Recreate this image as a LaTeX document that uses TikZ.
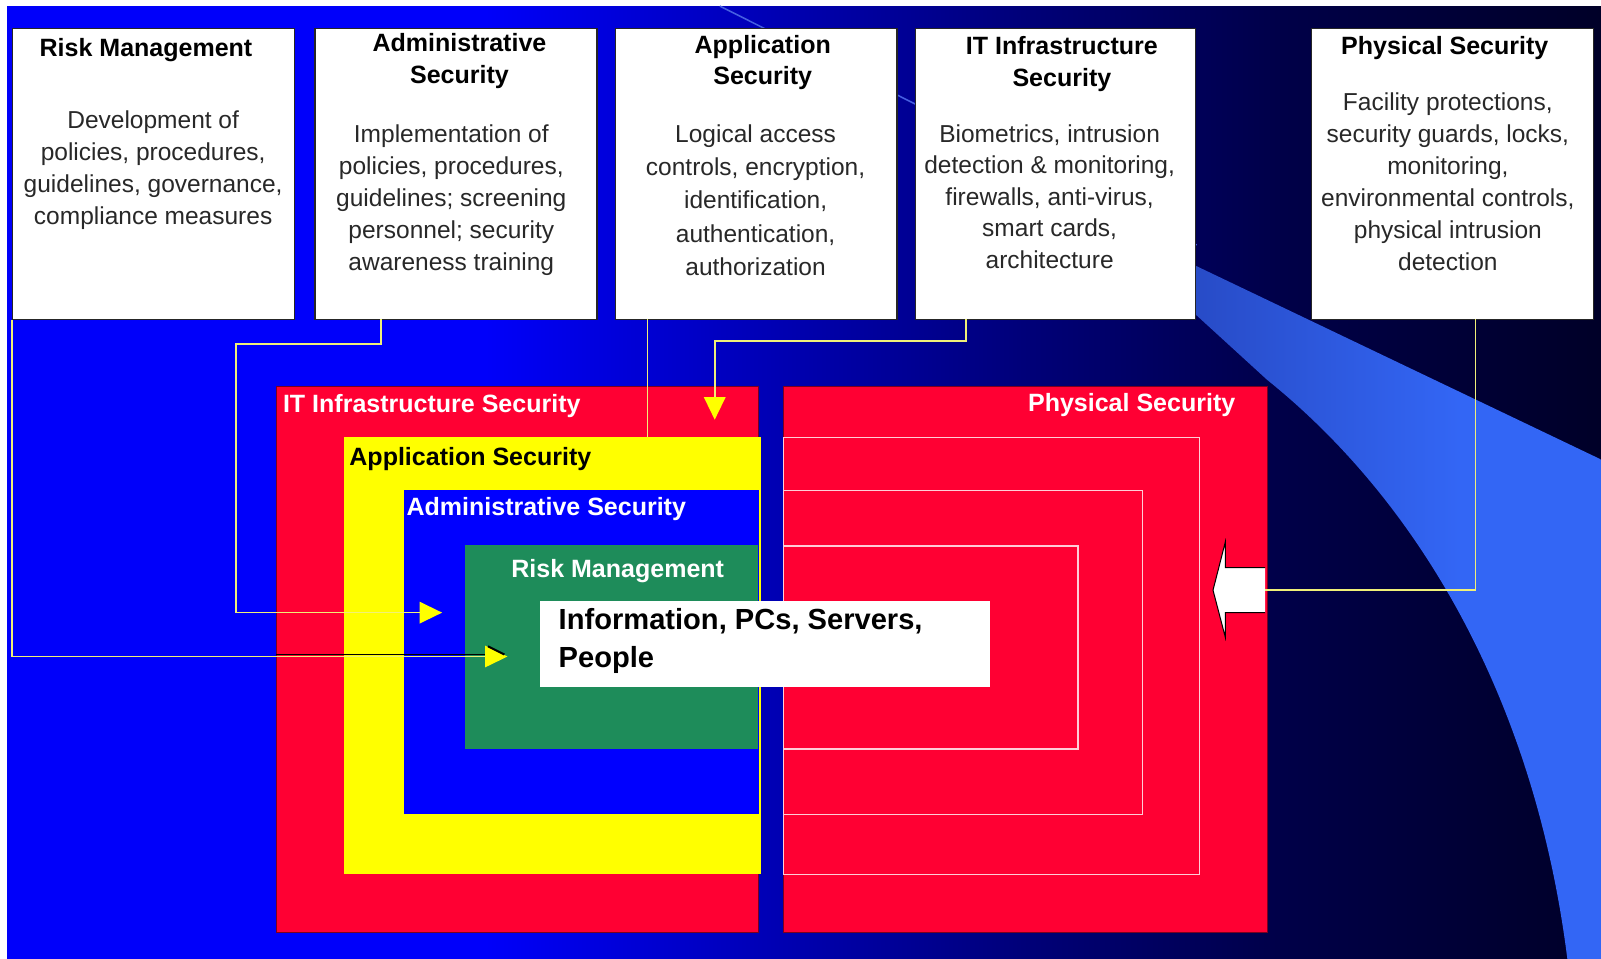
\documentclass[tikz,border=0pt]{standalone}
\usepackage{fontspec}
\setmainfont{Liberation Sans}
\usetikzlibrary{arrows.meta}

\definecolor{bgA}{RGB}{0,0,250}
\definecolor{bgB}{RGB}{0,0,180}
\definecolor{bgC}{RGB}{0,0,120}
\definecolor{bgD}{RGB}{0,0,72}
\definecolor{bgE}{RGB}{0,0,40}
\definecolor{swA}{RGB}{40,76,200}
\definecolor{swB}{RGB}{51,102,245}
\definecolor{streak}{RGB}{70,95,225}
\definecolor{itred}{RGB}{255,0,51}
\definecolor{redline}{RGB}{120,0,30}
\definecolor{appyellow}{RGB}{255,255,0}
\definecolor{admblue}{RGB}{0,0,255}
\definecolor{riskgreen}{RGB}{30,140,90}
\definecolor{ringline}{RGB}{255,205,215}
\definecolor{connline}{RGB}{240,240,120}
\definecolor{bodytext}{RGB}{40,40,40}

\pgfdeclarehorizontalshading{bgshade}{100bp}{color(0bp)=(bgA); color(40bp)=(bgA); color(49bp)=(bgB); color(57bp)=(bgC); color(65bp)=(bgD); color(75bp)=(bgE); color(100bp)=(bgE)}
\pgfdeclarehorizontalshading{swshade}{100bp}{color(0bp)=(swA); color(27bp)=(swA); color(58bp)=(swB); color(100bp)=(swB)}

\tikzset{
  topbox/.style={draw=black!85, line width=1.2pt, fill=white, anchor=north west, inner sep=0pt},
  ttl/.style={font=\fontsize{24.5}{31}\selectfont\bfseries, align=center, inner sep=0pt, anchor=north},
  body/.style={font=\fontsize{24}{31.5}\selectfont, text=bodytext, align=center, inner sep=0pt, anchor=north},
  layer/.style={anchor=north west, inner sep=0pt},
  lbl/.style={font=\fontsize{24.5}{31}\selectfont\bfseries, inner sep=0pt},
  ring/.style={draw=ringline, line width=1.3pt, anchor=north west, inner sep=0pt},
  conn/.style={draw=connline, line width=1.5pt},
  arr/.style={-{Triangle[length=22pt, width=21pt, fill=appyellow, color=appyellow]}}
}

\begin{document}
\begin{tikzpicture}[x=1pt, y=-1pt]
  % canvas and backdrop
  \fill[white] (0,0) rectangle (1568,939);
  \useasboundingbox (0,0) rectangle (1568,939);
  \shade[shading=bgshade] (7,6) rectangle (1568,939);
  \draw[streak, line width=1.5pt] (705,6) -- (1172,240);
  \shade[shading=swshade] (1160,255) -- (1568,450) -- (1568,939) -- (1535,939)
        .. controls (1505,700) and (1400,500) .. (1241,372) -- (1160,298) -- cycle;

  % top row of description boxes
  \node[topbox, minimum width=276pt, minimum height=285pt] (riskbox) at (12,27) {};
  \node[topbox, minimum width=276pt, minimum height=285pt] (admbox) at (308,27) {};
  \node[topbox, minimum width=276pt, minimum height=285pt] (appbox) at (602,27) {};
  \node[topbox, minimum width=274pt, minimum height=285pt] (itbox) at (896,27) {};
  \node[topbox, minimum width=276pt, minimum height=285pt] (physbox) at (1284,27) {};

  \node[ttl] (riskttl) at (143,37.5) {Risk Management};
  \node[ttl] (admttl) at (450,32.5) {Administrative\\Security};
  \node[ttl, font=\fontsize{24.5}{30}\selectfont\bfseries] (appttl) at (747,34.5) {Application\\Security};
  \node[ttl] (itttl) at (1040,35.5) {IT Infrastructure\\Security};
  \node[ttl] (physttl) at (1415,35.5) {Physical Security};

  \node[body, font=\fontsize{24}{31.3}\selectfont] (riskbody) at (150,108.5)
    {Development of\\policies, procedures,\\guidelines, governance,\\compliance measures};
  \node[body] (admbody) at (442,121.5)
    {Implementation of\\policies, procedures,\\guidelines; screening\\personnel; security\\awareness training};
  \node[body, font=\fontsize{24}{32.75}\selectfont] (appbody) at (740,121.5)
    {Logical access\\controls, encryption,\\identification,\\authentication,\\authorization};
  \node[body, font=\fontsize{24}{31}\selectfont] (itbody) at (1028,121.5)
    {Biometrics, intrusion\\detection \& monitoring,\\firewalls, anti-virus,\\smart cards,\\architecture};
  \node[body, font=\fontsize{24}{31.4}\selectfont] (physbody) at (1418,90.5)
    {Facility protections,\\security guards, locks,\\monitoring,\\environmental controls,\\physical intrusion\\detection};

  % nested layers around the protected assets
  \node[layer, fill=itred, draw=redline, line width=1pt, minimum width=472pt, minimum height=535pt] (itlayer) at (270,378) {};
  \node[layer, fill=appyellow, minimum width=408pt, minimum height=428pt] (applayer) at (337,428) {};
  \node[layer, fill=admblue, minimum width=348pt, minimum height=317pt] (admlayer) at (395,480) {};
  \node[layer, fill=riskgreen, minimum width=287pt, minimum height=199pt] (risklayer) at (455,534) {};

  \node[layer, fill=itred, draw=redline, line width=1pt, minimum width=474pt, minimum height=535pt] (physlayer) at (767,378) {};
  \node[ring, minimum width=407pt, minimum height=428pt] (ringA) at (767,428) {};
  \node[ring, minimum width=351pt, minimum height=317pt] (ringB) at (767,480) {};
  \node[ring, minimum width=288pt, minimum height=199pt] (ringC) at (767,534) {};

  \node[layer, fill=white, minimum width=440pt, minimum height=85pt] (assets) at (529,588) {};
  \node[anchor=north west, inner sep=0pt, align=left, font=\fontsize{28.5}{37}\selectfont\bfseries] (assettext) at (547,596)
    {Information, PCs, Servers,\\People};

  \node[lbl, text=white, anchor=north west] (itlbl) at (277,386.5) {IT Infrastructure Security};
  \node[lbl, text=black, anchor=north west] (applbl) at (342,437.5) {Application Security};
  \node[lbl, text=white, anchor=north west] (admlbl) at (398,486.5) {Administrative Security};
  \node[lbl, text=white, anchor=north] (risklbl) at (605,547.5) {Risk Management};
  \node[lbl, text=white, anchor=north east] (physlbl) at (1210,385.5) {Physical Security};

  % block arrow pressing on the physical layer
  \filldraw[fill=white, draw=black, line width=1pt]
    (1239,556) -- (1200,556) -- (1200,531) -- (1188,578) -- (1200,624) -- (1200,600) -- (1239,600);
  \coordinate (physIn) at (1239,578);

  % connector anchors
  \coordinate (admDrop) at (373,312);
  \coordinate (appDrop) at (634,312);
  \coordinate (itDrop) at (946,312);
  \coordinate (physDrop) at (1445,312);
  \coordinate (riskTip) at (497,643);
  \coordinate (admTip) at (433,600);
  \coordinate (itTip) at (700,411);
  \coordinate (riskBar) at (270,641);

  \draw[black, line width=1.5pt] (riskBar) -- (490,641);
  \draw[conn, arr] (riskbox.south west) |- (riskTip);
  \draw[black, line width=2pt] (478,633) -- (494,641);
  \draw[conn, arr] (admDrop) -- ++(0,25) -| (231,600) -- (admTip);
  \draw[conn] (appDrop) -- (appDrop |- applayer.north);
  \draw[conn, arr] (itDrop) -- ++(0,22) -| (itTip);
  \draw[conn] (physDrop) |- (physIn);
\end{tikzpicture}
\end{document}
